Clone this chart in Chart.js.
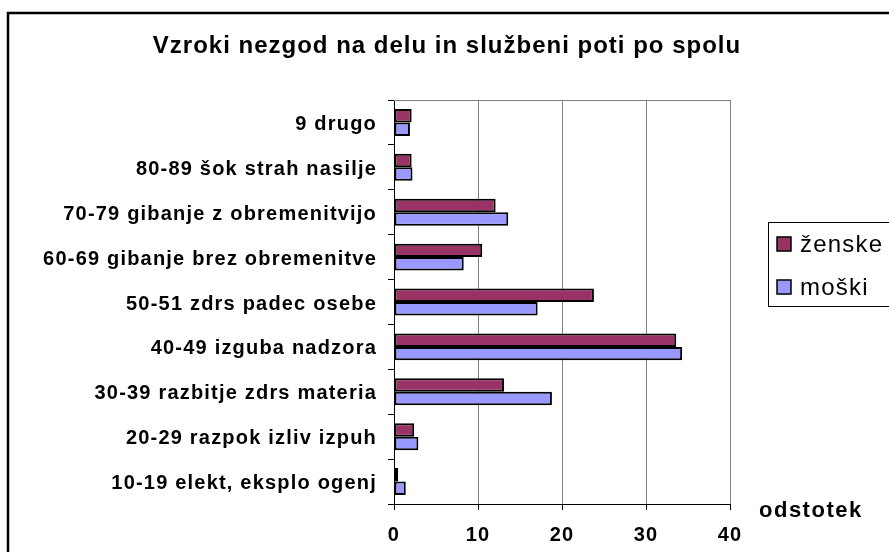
<!DOCTYPE html>
<html>
<head>
<meta charset="utf-8">
<script src="https://cdn.jsdelivr.net/npm/chart.js@4"></script>
<style>
  body { margin: 0; background: #fff; }
  #wrap { width: 889px; height: 552px; }
</style>
</head>
<body>
<div id="wrap"><canvas id="vzroki" width="889" height="552"></canvas></div>
<script>
// data (odstotek)
const categories = [
    '9 drugo',
    '80-89 šok strah nasilje',
    '70-79 gibanje z obremenitvijo',
    '60-69 gibanje brez obremenitve',
    '50-51 zdrs padec osebe',
    '40-49 izguba nadzora',
    '30-39 razbitje zdrs materia',
    '20-29 razpok izliv izpuh',
    '10-19 elekt, eksplo ogenj'
];
const zenske = [2.1, 2.1, 12.1, 10.5, 23.8, 33.6, 13.1, 2.4, 0.5];
const moski  = [1.9, 2.2, 13.6, 8.3, 17.1, 34.3, 18.8, 2.9, 1.4];
const xTicks = [0, 10, 20, 30, 40];

const title = 'Vzroki nezgod na delu in službeni poti po spolu';
const axisTitle = 'odstotek';
const FONT = "'Liberation Sans', Arial, sans-serif";

// frame, title, legend and the axis name
const decor = {
    id: 'decor',
    beforeDraw(chart) {
        const ctx = chart.ctx;
        ctx.save();
        ctx.fillStyle = '#fff';
        ctx.fillRect(0, 0, chart.width, chart.height);
        ctx.restore();
        // the old Excel text is a bit spaced out
        ctx.letterSpacing = '1.2px';
    },
    beforeDatasetsDraw(chart) {
        const ctx = chart.ctx;
        const a = chart.chartArea;
        ctx.save();
        ctx.strokeStyle = '#808080';
        ctx.lineWidth = 1;
        ctx.beginPath();
        ctx.moveTo(a.left, a.top + 0.5);
        ctx.lineTo(a.right, a.top + 0.5);
        ctx.stroke();
        ctx.restore();
    },
    afterDraw(chart) {
        const ctx = chart.ctx;
        ctx.save();

        // outer border, goes off the right and bottom edge
        ctx.strokeStyle = '#000';
        ctx.lineWidth = 2.5;
        ctx.strokeRect(8, 13, 1000, 700);

        ctx.fillStyle = '#000';
        ctx.letterSpacing = '1px';
        ctx.font = 'bold 24px ' + FONT;
        ctx.textAlign = 'center';
        ctx.textBaseline = 'middle';
        ctx.fillText(title, 447, 46);

        ctx.letterSpacing = '1.5px';
        ctx.font = 'bold 22px ' + FONT;
        ctx.textAlign = 'left';
        ctx.fillText(axisTitle, 759, 511);

        // legend box
        ctx.lineWidth = 1;
        ctx.strokeRect(768.5, 222.5, 200, 84);
        ctx.font = '24px ' + FONT;
        ctx.letterSpacing = '1.2px';
        chart.data.datasets.forEach((ds, i) => {
            const y = 244 + i * 43;
            ctx.fillStyle = ds.backgroundColor;
            ctx.fillRect(777, y - 7, 14, 14);
            ctx.lineWidth = 1.5;
            ctx.strokeStyle = '#000';
            ctx.strokeRect(777, y - 7, 14, 14);
            ctx.fillStyle = '#000';
            ctx.fillText(ds.label, 800, y + 1);
        });

        ctx.restore();
    }
};

const chart = document.querySelector('#vzroki').getContext('2d');

new Chart(chart, {
    type: 'bar',
    data: {
        labels: categories,
        datasets: [
            {
                label: 'ženske',
                data: zenske,
                backgroundColor: '#993366',
                borderColor: '#000',
                borderWidth: 2,
                borderSkipped: false
            },
            {
                label: 'moški',
                data: moski,
                backgroundColor: '#9999FF',
                borderColor: '#000',
                borderWidth: 2,
                borderSkipped: false
            }
        ]
    },
    options: {
        indexAxis: 'y',
        responsive: false,
        animation: false,
        devicePixelRatio: 1,
        categoryPercentage: 0.6,
        barPercentage: 1,
        layout: {
            padding: { top: 100, right: 159, bottom: 0, left: 0 }
        },
        plugins: {
            legend: { display: false },
            title: { display: false },
            tooltip: { enabled: false }
        },
        scales: {
            x: {
                min: 0,
                max: 40,
                afterFit: (scale) => { scale.height = 48; },
                afterBuildTicks: (scale) => {
                    scale.ticks = xTicks.map(v => ({ value: v }));
                },
                grid: {
                    color: '#808080',
                    tickColor: '#000',
                    tickLength: 6,
                    lineWidth: 1
                },
                border: { color: '#000', width: 1 },
                ticks: {
                    color: '#000',
                    padding: 13,
                    maxRotation: 0,
                    font: { family: FONT, size: 20, weight: 'bold' }
                }
            },
            y: {
                afterFit: (scale) => { scale.width = 394; },
                grid: {
                    drawOnChartArea: false,
                    color: '#000',
                    tickLength: 6
                },
                border: { color: '#000', width: 1 },
                ticks: {
                    color: '#000',
                    padding: 11,
                    labelOffset: 2,
                    font: { family: FONT, size: 20, weight: 'bold' }
                }
            }
        }
    },
    plugins: [decor]
});
</script>
</body>
</html>
